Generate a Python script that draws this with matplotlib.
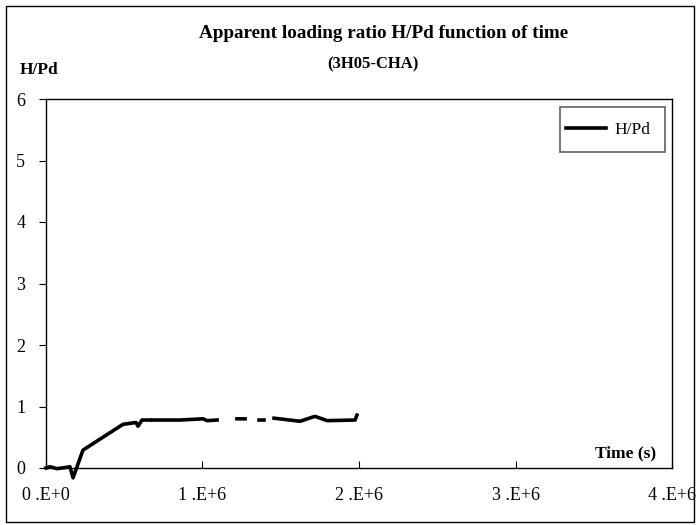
import numpy as np
import matplotlib.pyplot as plt
from matplotlib.patches import Rectangle

time_s = [0, 25600, 70000, 102000, 153000, 173000, 236000, 345000, 492000,
          575000, 588000, 613000, 665000, np.nan, 684000, 856000, 1003000,
          1029000, 1093000, np.nan, 1220000, 1272000, np.nan, 1361000, 1393000,
          np.nan, 1457000, 1623000, 1719000, 1796000, 1975000, 1987000]
h_pd = [0.0, 0.02, -0.01, 0.0, 0.02, -0.16, 0.29, 0.47, 0.71,
        0.74, 0.68, 0.78, 0.78, np.nan, 0.78, 0.78, 0.80,
        0.77, 0.78, np.nan, 0.80, 0.80, np.nan, 0.78, 0.78,
        np.nan, 0.81, 0.76, 0.84, 0.77, 0.78, 0.86]

x_ticks = [0, 1e6, 2e6, 3e6, 4e6]
x_labels = ['0 .E+0', '1 .E+6', '2 .E+6', '3 .E+6', '4 .E+6']
y_ticks = [0, 1, 2, 3, 4, 5, 6]

plt.rcParams['font.family'] = ['Liberation Serif', 'DejaVu Serif']

W, H = 696, 525
fig = plt.figure(figsize=(W / 100, H / 100), dpi=100)
ax = fig.add_axes([46 / W, 1 - 468 / H, (672 - 46) / W, (468 - 99) / H])

ax.plot(time_s, h_pd, color='black', linewidth=2.6, label='H/Pd', clip_on=False)

ax.set_xlim(0, 4e6)
ax.set_ylim(0, 6)
ax.set_xticks(x_ticks)
ax.set_xticklabels(x_labels)
ax.set_yticks(y_ticks)
ax.tick_params(axis='x', direction='in', length=5, pad=14, labelsize=13)
ax.tick_params(axis='y', direction='out', length=5, pad=10, labelsize=13)
for s in ax.spines.values():
    s.set_linewidth(1.0)

# Legend: content without frame, frame drawn as its own box
leg = ax.legend(loc='center left', bbox_to_anchor=(566 / W, 1 - 130 / H),
                bbox_transform=fig.transFigure, frameon=False,
                fontsize=12.5, handlelength=2.3, borderpad=0, borderaxespad=0,
                handletextpad=0.5)
fig.patches.append(Rectangle((560 / W, 1 - 152 / H), 105 / W, 45 / H,
                             fill=False, edgecolor='#606060', linewidth=1.2,
                             transform=fig.transFigure, figure=fig))

# Titles and axis labels placed like the original chart
fig.text(384 / W, 1 - 33 / H, 'Apparent loading ratio H/Pd function of time',
         ha='center', va='center', fontsize=13.8, fontweight='bold')
fig.text(373 / W, 1 - 64 / H, '(3H05-CHA)', ha='center', va='center',
         fontsize=12, fontweight='bold')
fig.text(20 / W, 1 - 70 / H, 'H/Pd', ha='left', va='center',
         fontsize=12.5, fontweight='bold')
fig.text(656 / W, 1 - 453 / H, 'Time (s)', ha='right', va='center',
         fontsize=12.5, fontweight='bold')

# Outer chart border
fig.patches.append(Rectangle((6 / W, 3 / H), 688 / W, 516 / H, fill=False,
                             edgecolor='black', linewidth=1.0,
                             transform=fig.transFigure, figure=fig))

fig.savefig('out.png', dpi=100)
